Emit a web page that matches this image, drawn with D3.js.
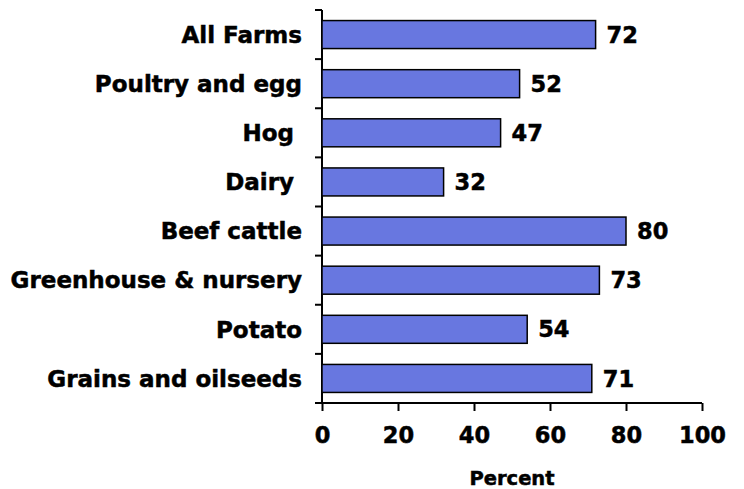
<!DOCTYPE html>
<html>
<head>
<meta charset="utf-8">
<script src="https://cdn.jsdelivr.net/npm/d3@7"></script>
<style>
  html, body { margin: 0; padding: 0; background: #fff; }
  svg text { font-family: "DejaVu Sans", Verdana, sans-serif; font-weight: bold; fill: #000;
             stroke: #000; stroke-width: 0.5px; }
</style>
</head>
<body>
<svg id="chart" width="744" height="489"></svg>
<script>
// Share of farms by type (percent)
const categories = ["All Farms", "Poultry and egg", "Hog ", "Dairy ", "Beef cattle",
                    "Greenhouse & nursery", "Potato", "Grains and oilseeds"];
const values = [72, 52, 47, 32, 80, 73, 54, 71];
const xTicks = [0, 20, 40, 60, 80, 100];
const xTitle = "Percent";

const svg = d3.select("#chart");
const margin = { left: 322, right: 42, top: 10, bottom: 86 };
const width = 744, height = 489;

const x = d3.scaleLinear().domain([0, 100]).range([margin.left, width - margin.right]);
const y = d3.scaleBand().domain(categories).range([margin.top, height - margin.bottom])
  .paddingInner(0.43).paddingOuter(0.215);

// y axis: line with ticks between bands
const yBounds = d3.range(categories.length + 1).map(i => margin.top + i * (height - margin.bottom - margin.top) / categories.length);
svg.append("line")
  .attr("x1", margin.left).attr("x2", margin.left)
  .attr("y1", margin.top).attr("y2", height - margin.bottom)
  .attr("stroke", "#000").attr("stroke-width", 2);
svg.selectAll(".ytick").data(yBounds).join("line")
  .attr("x1", margin.left - 7).attr("x2", margin.left)
  .attr("y1", d => d).attr("y2", d => d)
  .attr("stroke", "#000").attr("stroke-width", 2);

// bars
svg.selectAll(".bar").data(values).join("rect")
  .attr("x", x(0))
  .attr("y", (d, i) => y(categories[i]))
  .attr("width", d => x(d) - x(0))
  .attr("height", y.bandwidth())
  .attr("fill", "#6877e0")
  .attr("stroke", "#000")
  .attr("stroke-width", 1.5);

// value labels
svg.selectAll(".val").data(values).join("text")
  .attr("x", d => x(d) + 11)
  .attr("y", (d, i) => y(categories[i]) + y.bandwidth() / 2)
  .attr("dy", "0.36em")
  .attr("font-size", 22.5)
  .text(d => d);

// category labels
svg.selectAll(".cat").data(categories).join("text")
  .attr("x", margin.left - 20)
  .attr("y", d => y(d) + y.bandwidth() / 2)
  .attr("dy", "0.36em")
  .attr("text-anchor", "end")
  .attr("font-size", 23)
  .style("white-space", "pre")
  .text(d => d);

// x axis
const xAxis = d3.axisBottom(x).tickValues(xTicks).tickSize(8).tickPadding(16).tickFormat(d3.format("d"));
const gx = svg.append("g")
  .attr("transform", `translate(0,${height - margin.bottom})`)
  .call(xAxis);
gx.select(".domain").attr("stroke-width", 2).attr("d", `M${x(0) - 7},0H${x(100)}`);
gx.selectAll(".tick line").attr("stroke-width", 2);
gx.selectAll(".tick text").attr("font-size", 22.5).attr("font-family", null);

svg.append("text")
  .attr("x", (x(0) + x(100)) / 2)
  .attr("y", 478)
  .attr("dy", "0.36em")
  .attr("text-anchor", "middle")
  .attr("font-size", 19.5)
  .text(xTitle);
</script>
</body>
</html>
